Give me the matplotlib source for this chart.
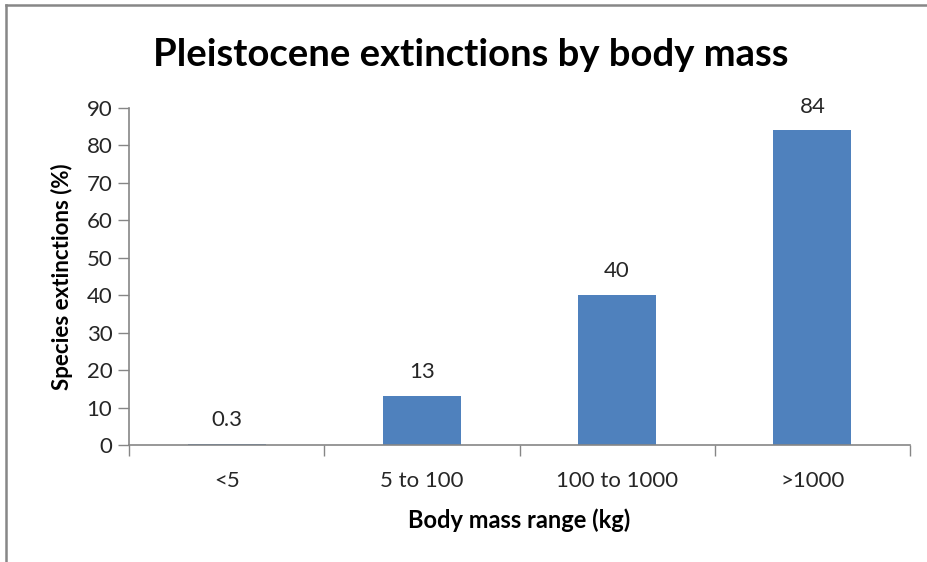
import matplotlib.pyplot as plt
from matplotlib.lines import Line2D

# Data
categories = ["<5", "5 to 100", "100 to 1000", ">1000"]
extinctions = [0.3, 13, 40, 84]
value_labels = ["0.3", "13", "40", "84"]
y_ticks = [0, 10, 20, 30, 40, 50, 60, 70, 80, 90]

BAR_COLOR = "#4F81BD"
AXIS_COLOR = "#868686"
TEXT_COLOR = "#262626"

plt.rcParams["font.family"] = ["Lato", "DejaVu Sans"]

fig = plt.figure(figsize=(9.27, 5.62), dpi=100)
ax = fig.add_axes([129 / 927, 1 - 445 / 562, 781 / 927, 337 / 562])

x = list(range(len(categories)))
bars = ax.bar(x, extinctions, width=0.4, color=BAR_COLOR)

# value labels above the bars
for bar, label in zip(bars, value_labels):
    ax.annotate(label, (bar.get_x() + bar.get_width() / 2, bar.get_height()),
                xytext=(0, 10), textcoords="offset points",
                ha="center", va="bottom", fontsize=16, color=TEXT_COLOR)

ax.set_xlim(-0.5, len(categories) - 0.5)
ax.set_ylim(0, 90)
ax.set_yticks(y_ticks)
ax.set_yticklabels([str(t) for t in y_ticks])

# category labels between boundary ticks (Excel style)
ax.set_xticks([i - 0.5 for i in range(len(categories) + 1)])
ax.set_xticklabels([])
ax.set_xticks(x, minor=True)
ax.set_xticklabels(categories, minor=True)
ax.tick_params(axis="x", which="minor", length=0, pad=19, labelsize=16, colors=TEXT_COLOR)
ax.tick_params(axis="x", which="major", length=8, width=1, color=AXIS_COLOR)
ax.tick_params(axis="y", length=8, width=1, color=AXIS_COLOR, labelsize=16,
               labelcolor=TEXT_COLOR, pad=4)

for side in ["top", "right"]:
    ax.spines[side].set_visible(False)
for side in ["left", "bottom"]:
    ax.spines[side].set_color(AXIS_COLOR)
    ax.spines[side].set_linewidth(1.2)

ax.set_ylabel("Species extinctions (%)", fontsize=16, fontweight="bold", labelpad=10)
ax.set_xlabel("Body mass range (kg)", fontsize=17, fontweight="bold", labelpad=12)

fig.text(471 / 927, 1 - 55 / 562, "Pleistocene extinctions by body mass",
         ha="center", va="center", fontsize=27.5, fontweight="bold")

# chart frame (left and top edges visible)
fig.add_artist(Line2D([6 / 927, 6 / 927], [0, 1 - 5 / 562], transform=fig.transFigure,
                      color="#878787", linewidth=1.8))
fig.add_artist(Line2D([6 / 927, 1], [1 - 5 / 562, 1 - 5 / 562], transform=fig.transFigure,
                      color="#878787", linewidth=1.8))

fig.savefig("out.png", dpi=100)
